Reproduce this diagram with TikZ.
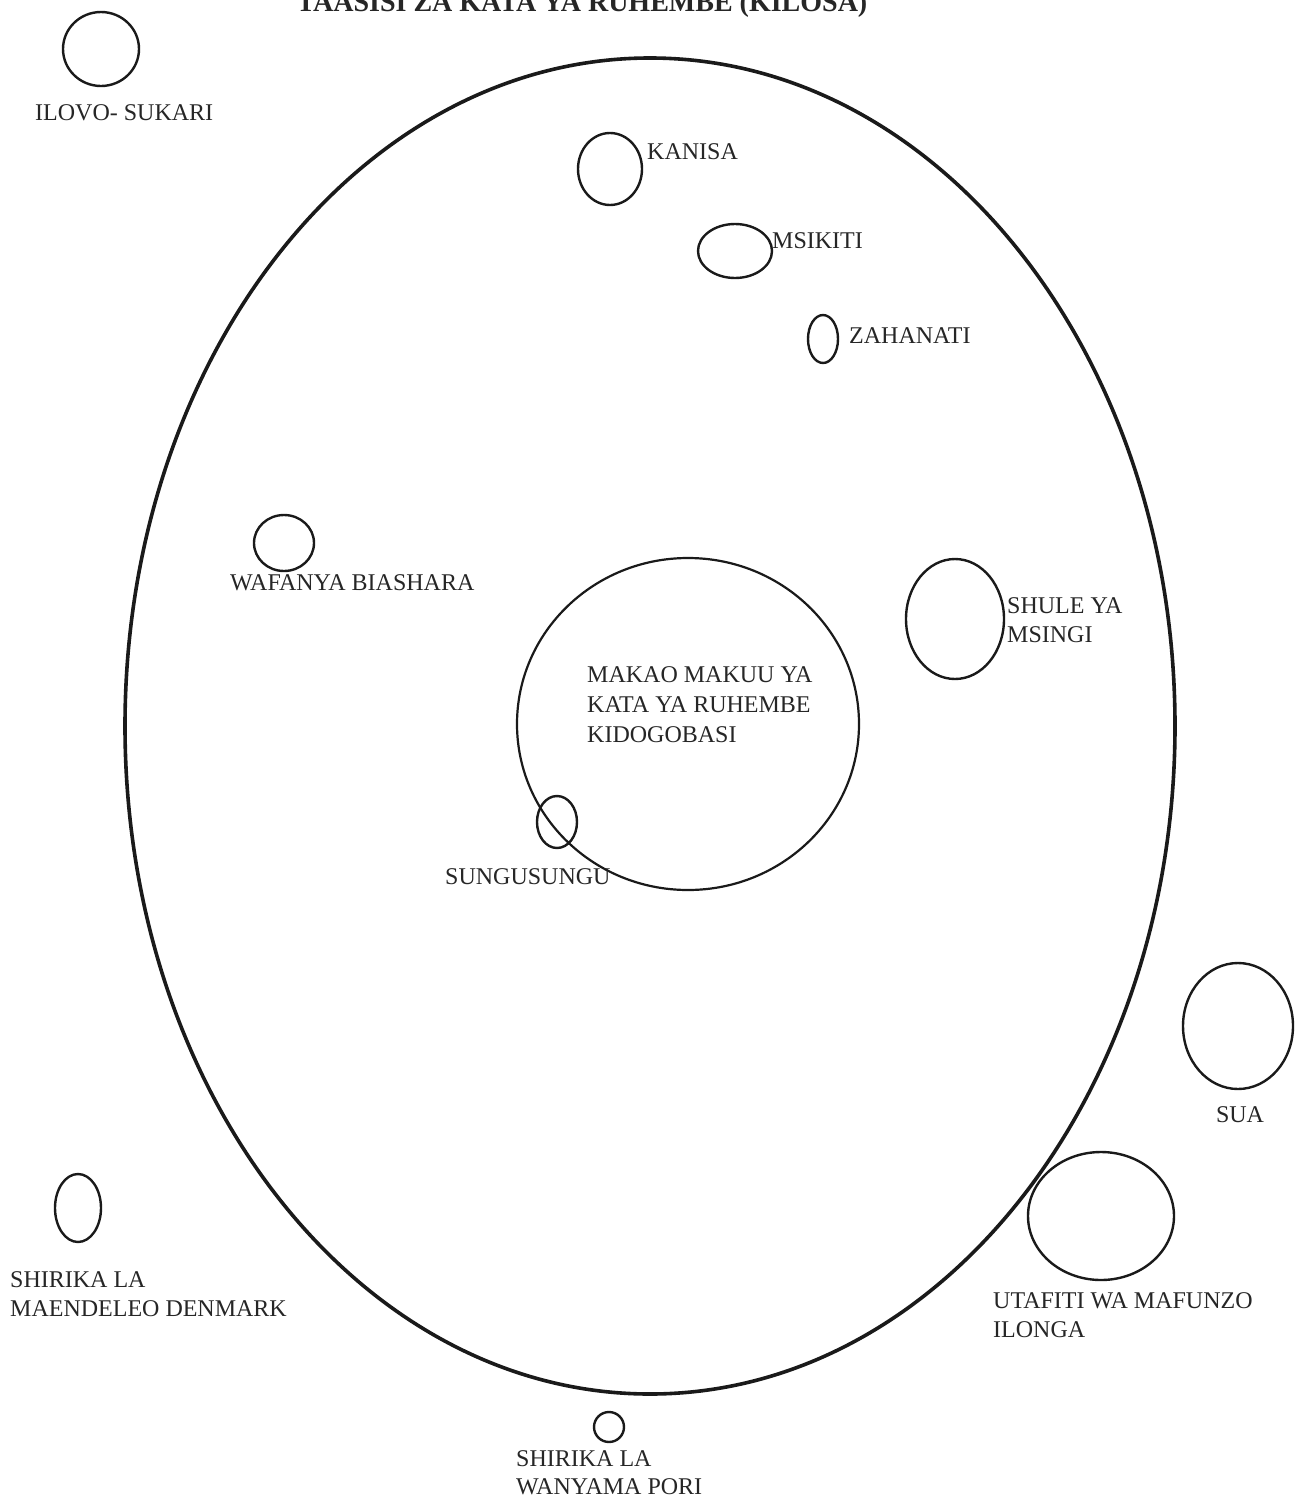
\documentclass[tikz,border=0pt]{standalone}
\usepackage{fontspec}
\setmainfont{Liberation Serif}
\usetikzlibrary{shapes.geometric}
\definecolor{ink}{HTML}{1A1A1A}
\definecolor{txt}{HTML}{262626}
\tikzset{
  org/.style={ellipse, draw=ink, line width=2.4pt, inner sep=0pt},
  lbl/.style={anchor=base west, inner sep=0pt, text=txt, font=\fontsize{24}{29}\selectfont},
  lblc/.style={anchor=base, inner sep=0pt, text=txt, font=\fontsize{24}{29}\selectfont},
}
\begin{document}
\begin{tikzpicture}[x=1pt,y=-1pt]
\useasboundingbox[fill=white] (0,0) rectangle (1298,1502);
% title (top cut off as in the scan)
\node[anchor=base, inner sep=0pt, text=txt, font=\bfseries\fontsize{28}{32}\selectfont] (title) at (582,11) {TAASISI ZA KATA YA RUHEMBE (KILOSA)};
% ward boundary
\node[ellipse, draw=ink, line width=3.6pt, inner sep=0pt, minimum width=1050pt, minimum height=1336pt] (kata) at (650,726) {};
% headquarters
\node[ellipse, draw=ink, line width=2.2pt, inner sep=0pt, minimum width=342pt, minimum height=332pt] (makao) at (688,724) {};
\node[lbl] (makaoA) at (587,682) {MAKAO MAKUU YA};
\node[lbl] (makaoB) at (587,712) {KATA YA RUHEMBE};
\node[lbl] (makaoC) at (587,742) {KIDOGOBASI};
% institutions
\node[org, minimum width=76pt, minimum height=74pt] (ilovo) at (101,49) {};
\node[lbl] (ilovoL) at (35,120) {ILOVO- SUKARI};

\node[org, minimum width=64pt, minimum height=72pt] (kanisa) at (610,169) {};
\node[lbl] (kanisaL) at (647,159) {KANISA};

\node[org, minimum width=74pt, minimum height=54pt] (msikiti) at (735,251) {};
\node[lbl] (msikitiL) at (772,248) {MSIKITI};

\node[org, minimum width=30pt, minimum height=48pt] (zahanati) at (823,339) {};
\node[lbl] (zahanatiL) at (849,343) {ZAHANATI};

\node[org, minimum width=60pt, minimum height=56pt] (biashara) at (284,543) {};
\node[lbl] (biasharaL) at (230,590) {WAFANYA BIASHARA};

\node[org, minimum width=98pt, minimum height=120pt] (shule) at (955,619) {};
\node[lbl] (shuleA) at (1007,613) {SHULE YA};
\node[lbl] (shuleB) at (1007,642) {MSINGI};

\node[org, minimum width=40pt, minimum height=52pt] (sungu) at (557,822) {};
\node[lbl] (sunguL) at (445,884) {SUNGUSUNGU};

\node[org, minimum width=110pt, minimum height=126pt] (sua) at (1238,1026) {};
\node[lblc] (suaL) at (1240,1122) {SUA};

\node[org, minimum width=146pt, minimum height=128pt] (ilonga) at (1101,1216) {};
\node[lbl] (ilongaA) at (993,1308) {UTAFITI WA MAFUNZO};
\node[lbl] (ilongaB) at (993,1337) {ILONGA};

\node[org, minimum width=46pt, minimum height=68pt] (denmark) at (78,1208) {};
\node[lbl] (denmarkA) at (10,1287) {SHIRIKA LA};
\node[lbl] (denmarkB) at (10,1316) {MAENDELEO DENMARK};

\node[org, minimum width=30pt, minimum height=30pt] (pori) at (609,1427) {};
\node[lbl] (poriA) at (516,1466) {SHIRIKA LA};
\node[lbl] (poriB) at (516,1494) {WANYAMA PORI};
\end{tikzpicture}
\end{document}
